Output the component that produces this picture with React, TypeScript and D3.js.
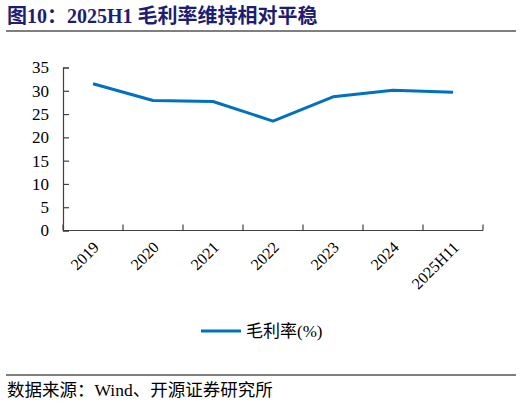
import React, { useEffect, useRef } from 'react';
import * as d3 from 'd3';

const categories = ['2019', '2020', '2021', '2022', '2023', '2024', '2025H11'];
const grossMargin = [31.5, 27.9, 27.7, 23.5, 28.7, 30.1, 29.7];
const yTicks = [0, 5, 10, 15, 20, 25, 30, 35];
const seriesName = '毛利率(%)';
const titleText = '图10：2025H1 毛利率维持相对平稳';
const sourceText = '数据来源：Wind、开源证券研究所';

const serif = '"Liberation Serif", "Noto Sans CJK SC", serif';

const App: React.FC = () => {
  const svgRef = useRef<SVGSVGElement>(null);

  useEffect(() => {
    if (!svgRef.current) return;
    const svg = d3.select(svgRef.current);
    svg.selectAll('*').remove();

    const W = 522;
    const H = 405;
    svg.attr('width', W).attr('height', H);

    // Title and rule
    svg.append('text')
      .attr('x', 7)
      .attr('y', 23)
      .attr('fill', '#1d1d72')
      .attr('font-family', serif)
      .attr('font-weight', 'bold')
      .attr('font-size', '20px')
      .text(titleText);

    svg.append('line')
      .attr('x1', 6).attr('x2', 516)
      .attr('y1', 31).attr('y2', 31)
      .attr('stroke', '#7f7f7f')
      .attr('stroke-width', 2);

    const margin = { left: 63, right: 483, top: 67.5, bottom: 230.5 };

    const xScale = d3.scaleBand<string>()
      .domain(categories)
      .range([margin.left, margin.right]);

    const yScale = d3.scaleLinear()
      .domain([0, 35])
      .range([margin.bottom, margin.top]);

    const g = svg.append('g');

    // Y axis
    const yAxis = g.append('g')
      .attr('transform', `translate(${margin.left},0)`)
      .call(d3.axisRight(yScale).tickValues(yTicks).tickSize(6).tickFormat(d => `${d}`));
    yAxis.select('.domain').attr('stroke', '#404040').attr('stroke-width', 1.2);
    yAxis.selectAll('.tick line').attr('stroke', '#404040').attr('stroke-width', 1.2);
    yAxis.selectAll('.tick text')
      .attr('x', -14)
      .attr('text-anchor', 'end')
      .attr('fill', '#000')
      .attr('font-family', serif)
      .attr('font-size', '17px');

    // X axis
    const xTickPositions = categories.map(c => xScale(c) as number).concat([margin.right]);
    const xAxis = g.append('g');
    xAxis.append('line')
      .attr('x1', margin.left).attr('x2', margin.right)
      .attr('y1', margin.bottom).attr('y2', margin.bottom)
      .attr('stroke', '#404040')
      .attr('stroke-width', 1.2);
    xAxis.selectAll('.xtick')
      .data(xTickPositions)
      .enter()
      .append('line')
      .attr('x1', d => d).attr('x2', d => d)
      .attr('y1', margin.bottom).attr('y2', margin.bottom - 6)
      .attr('stroke', '#404040')
      .attr('stroke-width', 1.2);

    xAxis.selectAll('.xlabel')
      .data(categories)
      .enter()
      .append('text')
      .attr('transform', d => {
        const cx = (xScale(d) as number) + xScale.bandwidth() / 2 + 3;
        return `translate(${cx},${margin.bottom + 14}) rotate(-45)`;
      })
      .attr('text-anchor', 'end')
      .attr('dy', '0.35em')
      .attr('fill', '#000')
      .attr('font-family', serif)
      .attr('font-size', '16px')
      .text(d => d);

    // Line
    const line = d3.line<number>()
      .x((_, i) => (xScale(categories[i]) as number) + xScale.bandwidth() / 2)
      .y(d => yScale(d));

    g.append('path')
      .datum(grossMargin)
      .attr('fill', 'none')
      .attr('stroke', '#0070c0')
      .attr('stroke-width', 3)
      .attr('stroke-linejoin', 'round')
      .attr('d', line);

    // Legend
    const legend = svg.append('g').attr('transform', 'translate(201,331)');
    legend.append('line')
      .attr('x1', 0).attr('x2', 40)
      .attr('y1', 0).attr('y2', 0)
      .attr('stroke', '#0070c0')
      .attr('stroke-width', 3);
    legend.append('text')
      .attr('x', 45)
      .attr('y', 0)
      .attr('dy', '0.35em')
      .attr('fill', '#000')
      .attr('font-family', serif)
      .attr('font-size', '17px')
      .text(seriesName);

    // Source
    svg.append('line')
      .attr('x1', 6).attr('x2', 516)
      .attr('y1', 375).attr('y2', 375)
      .attr('stroke', '#000')
      .attr('stroke-width', 1);
    svg.append('text')
      .attr('x', 7)
      .attr('y', 396)
      .attr('fill', '#000')
      .attr('font-family', serif)
      .attr('font-size', '17.5px')
      .text(sourceText);
  }, []);

  return (
    <div style={{ position: 'absolute', left: 0, top: 0 }}>
      <svg ref={svgRef} style={{ display: 'block' }}></svg>
    </div>
  );
};

export default App;
